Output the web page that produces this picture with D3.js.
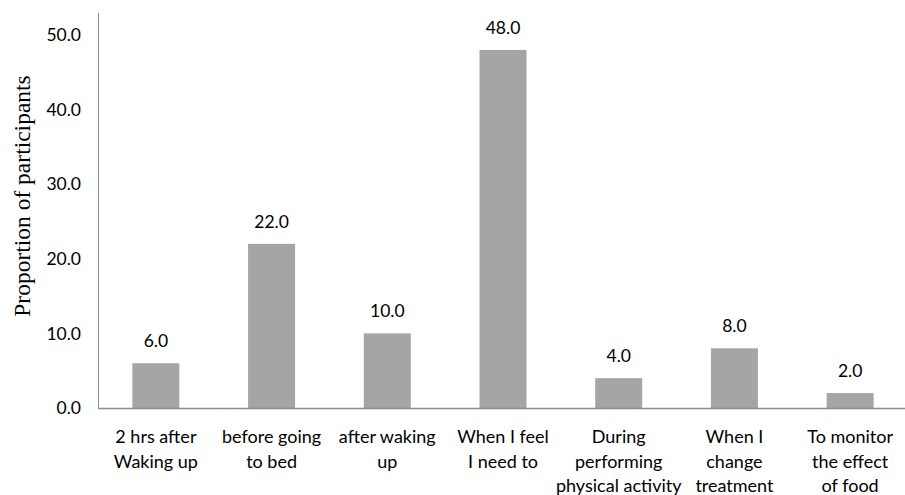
<!DOCTYPE html>
<html>
<head>
<meta charset="utf-8">
<script src="https://cdn.jsdelivr.net/npm/d3@7"></script>
<style>
  body { margin: 0; background: #fff; }
  svg text { font-family: Lato, "Open Sans", sans-serif; fill: #000; }
</style>
</head>
<body>
<div id="chart"></div>
<script>
// Chart data
var categories = [
  ["2 hrs after", "Waking up"],
  ["before going", "to bed"],
  ["after waking", "up"],
  ["When I feel", "I need to"],
  ["During", "performing", "physical activity"],
  ["When I", "change", "treatment"],
  ["To monitor", "the effect", "of food"]
];
var values = [6.0, 22.0, 10.0, 48.0, 4.0, 8.0, 2.0];
var yTicks = [0, 10, 20, 30, 40, 50];

var w = 905;
var h = 495;

var svg = d3.select("#chart")
            .append("svg")
            .attr("width", w)
            .attr("height", h);

// Scales
var xScale = d3.scaleBand()
               .domain(d3.range(values.length))
               .range([98, 908])
               .paddingInner(0.594)
               .paddingOuter(0.297);

var yScale = d3.scaleLinear()
               .domain([0, 50])
               .range([408, 35]);

// Bars
svg.selectAll("rect.bar")
   .data(values)
   .enter()
   .append("rect")
   .attr("class", "bar")
   .attr("x", (d, i) => xScale(i))
   .attr("y", d => yScale(d))
   .attr("width", xScale.bandwidth())
   .attr("height", d => yScale(0) - yScale(d))
   .attr("fill", "#a5a5a5");

// Value labels
svg.selectAll("text.value")
   .data(values)
   .enter()
   .append("text")
   .attr("class", "value")
   .attr("x", (d, i) => xScale(i) + xScale.bandwidth() / 2)
   .attr("y", d => yScale(d) - 16)
   .attr("text-anchor", "middle")
   .style("font-size", "17.5px")
   .text(d => d.toFixed(1));

// Y axis
var yAxis = d3.axisLeft(yScale)
              .tickValues(yTicks)
              .tickSize(0)
              .tickPadding(17)
              .tickFormat(d => d.toFixed(1));

var gy = svg.append("g")
   .attr("transform", "translate(98, 0)")
   .call(yAxis);
gy.select(".domain").remove();
gy.selectAll("text").style("font-size", "17.5px");

svg.append("line")
   .attr("x1", 98.5).attr("x2", 98.5)
   .attr("y1", 13).attr("y2", yScale(0))
   .attr("stroke", "#8c8c8c")
   .attr("stroke-width", 1);

// X axis baseline
svg.append("line")
   .attr("x1", 98).attr("x2", w)
   .attr("y1", yScale(0) + 0.5).attr("y2", yScale(0) + 0.5)
   .attr("stroke", "#8c8c8c")
   .attr("stroke-width", 1.5);

// Category labels (multi-line)
var lab = svg.selectAll("text.cat")
   .data(categories)
   .enter()
   .append("text")
   .attr("class", "cat")
   .attr("text-anchor", "middle")
   .style("font-size", "18px")
   .attr("transform", (d, i) => "translate(" + (xScale(i) + xScale.bandwidth() / 2) + ",443)");

lab.selectAll("tspan")
   .data(d => d)
   .enter()
   .append("tspan")
   .attr("x", 0)
   .attr("y", (d, i) => i * 24.5)
   .text(d => d);

// Y axis title
svg.append("text")
   .attr("transform", "translate(30, 196) rotate(-90)")
   .attr("text-anchor", "middle")
   .style("font-family", "'Liberation Serif', 'DejaVu Serif', serif")
   .style("font-size", "23.5px")
   .text("Proportion of participants");
</script>
</body>
</html>
